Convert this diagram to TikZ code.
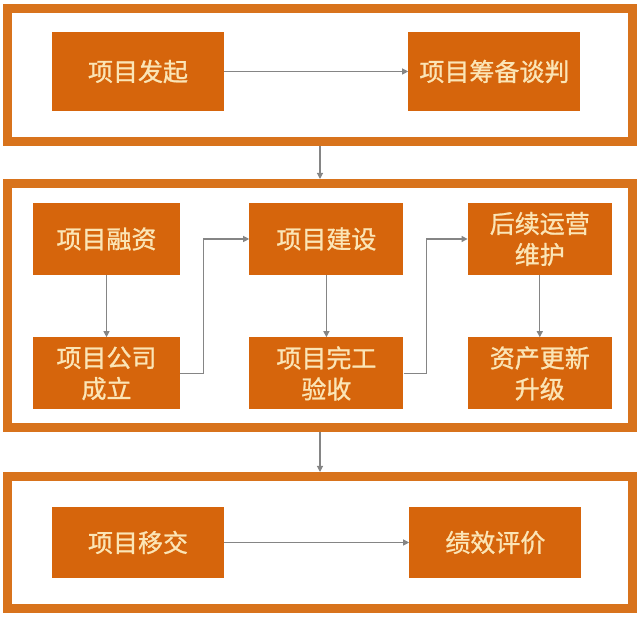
\documentclass[tikz,border=0pt]{standalone}
\usepackage{fontspec}
\newfontfamily\cjk[FakeBold=1]{Noto Sans CJK SC}
\usetikzlibrary{arrows.meta,positioning}
\definecolor{Ochre}{HTML}{D6650C}
\definecolor{Rim}{HTML}{D8731C}
\definecolor{Cream}{HTML}{FBE5B6}
\definecolor{Wire}{HTML}{858585}

\begin{document}
\begin{tikzpicture}[x=1pt,y=1pt,
  node distance=62pt and 69pt,
  stage/.style={draw=Rim,line width=9pt,fill=white,minimum width=625pt,inner sep=0pt},
  task/.style={fill=Ochre,text=Cream,inner sep=0pt,align=center,minimum height=72pt,font=\cjk\fontsize{25}{31}\selectfont},
  wide/.style={task,minimum width=172pt},
  arrow/.style={-{Triangle[length=6pt,width=6pt]},line width=1.1pt,draw=Wire}
]
  \useasboundingbox (0,0) rectangle (640,617);
  % three stages
  \node[stage,minimum height=133pt] (startup) at (320,542) {};
  \node[stage,minimum height=244pt] (delivery) at (320,311.5) {};
  \node[stage,minimum height=132pt] (closing) at (320,74.5) {};
  % stage one
  \node[wide,minimum height=79pt] (launch) at (138,545.5) {项目发起};
  \node[wide,minimum height=79pt,right=184pt of launch] (talks) {项目筹备谈判};
  % stage two
  \node[task,minimum width=147pt] (finance) at (106.5,378) {项目融资};
  \node[task,minimum width=154pt,right=of finance] (construct) {项目建设};
  \node[task,minimum width=144pt,right=64pt of construct] (operate) {后续运营\\维护};
  \node[task,minimum width=147pt,below=of finance] (company) {项目公司\\成立};
  \node[task,minimum width=154pt,below=of construct] (complete) {项目完工\\验收};
  \node[task,minimum width=144pt,below=of operate] (renew) {资产更新\\升级};
  % stage three
  \node[wide,minimum height=71pt] (transfer) at (138,74.5) {项目移交};
  \node[wide,minimum height=71pt,right=185pt of transfer] (review) {绩效评价};
  \draw[arrow] (launch) -- (talks);
  \draw[arrow] (startup) -- (delivery);
  \draw[arrow] (finance) -- (company);
  \draw[arrow] (company.east) -- ++(23pt,0) |- (construct.west);
  \draw[arrow] (construct) -- (complete);
  \draw[arrow] (complete.east) -- ++(23pt,0) |- (operate.west);
  \draw[arrow] (operate) -- (renew);
  \draw[arrow] (delivery) -- (closing);
  \draw[arrow] (transfer) -- (review);
\end{tikzpicture}
\end{document}
